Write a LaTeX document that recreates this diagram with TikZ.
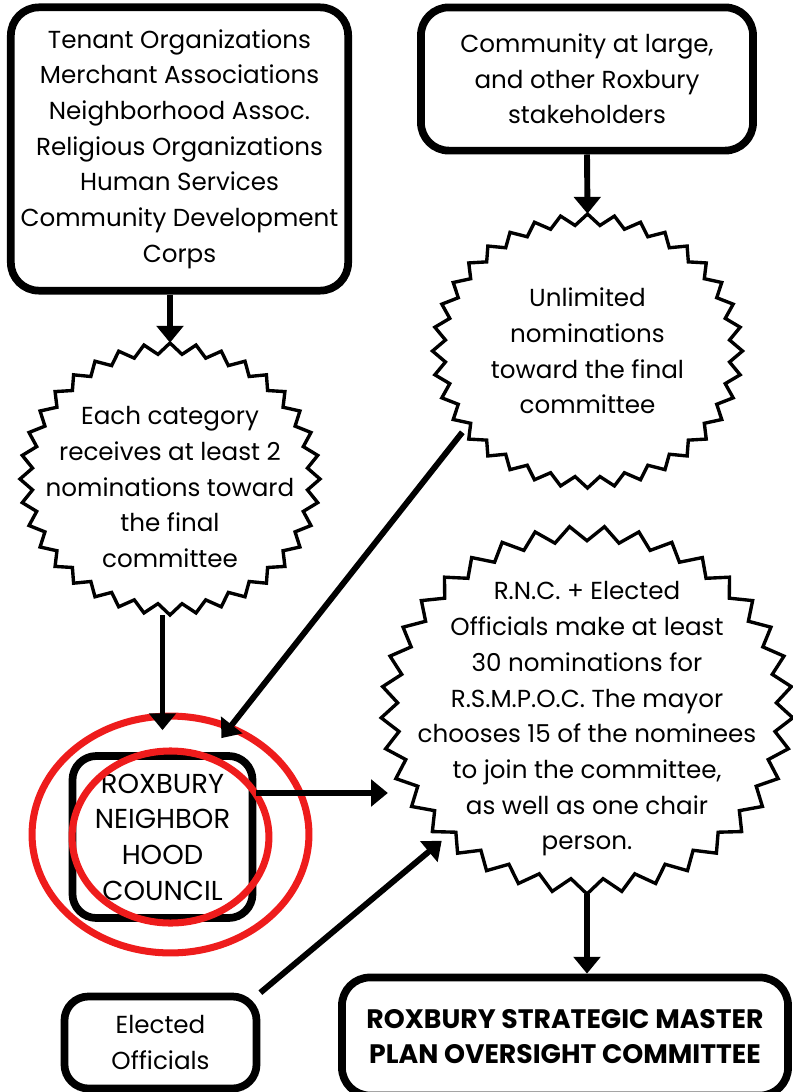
\documentclass[tikz,border=0pt]{standalone}
\usepackage{fontspec}
\setmainfont{Poppins}
\usepackage{tikz}
\usetikzlibrary{arrows.meta,shapes.geometric}
\definecolor{ringred}{HTML}{EE1C1C}
\tikzset{txt/.style={font=\fontsize{17.5}{25.4}\selectfont},
    box/.style={draw, line width=5.5pt, rounded corners=0.7cm, align=center, inner sep=0pt},
    blob/.style={ellipse, draw=none, inner sep=0pt},
    words/.style={align=center, inner sep=0pt},
    zig/.style={line width=2.4pt, line join=miter},
    link/.style={line width=4.2pt, -{Triangle[length=0.42cm,width=0.66cm]}},
    ring/.style={draw=ringred, line width=5pt}}
\newcommand{\burst}[4]{%
  \draw[zig, shift={(#1.center)}] (0,#3)
    \foreach \k [evaluate={\k as \f using 1-0.08*mod(\k,2)}] in {1,...,#4}
      { -- ({\f*#2*cos(90+\k*(360/#4))}, {\f*#3*sin(90+\k*(360/#4))}) } -- cycle;}

\begin{document}
\begin{tikzpicture}[x=0.025cm, y=-0.025cm, every node/.style={txt}]
    \useasboundingbox (0,0) rectangle (793,1092);
    \node[box, minimum width=8.43cm, minimum height=7.08cm] (orgs) at (179.5,149)
        {Tenant Organizations\\Merchant Associations\\Neighborhood Assoc.\\Religious Organizations\\Human Services\\Community Development\\Corps};
    \node[box, minimum width=8.3cm, minimum height=3.58cm] (crowd) at (587,79)
        {Community at large,\\and other Roxbury\\stakeholders};
    \node[blob, minimum width=7.5cm, minimum height=6.8cm] (nomA) at (170,479) {};
    \node[words] (nomAtxt) at (170,487)
        {Each category\\receives at least 2\\nominations toward\\the final\\committee};
    \node[blob, minimum width=7.75cm, minimum height=6.85cm] (unl) at (587.5,351) {};
    \node[words] (unltxt) at (unl) {Unlimited\\nominations\\toward the final\\committee};
    \node[blob, minimum width=10.3cm, minimum height=9.2cm] (big) at (587,710) {};
    \node[words] (bigtxt) at (587,719)
        {R.N.C. + Elected\\Officials make at least\\30 nominations for\\R.S.M.P.O.C. The mayor\\chooses 15 of the nominees\\to join the committee,\\as well as one chair\\person.};
    \node[box, rounded corners=0.6cm, minimum width=4.5cm, minimum height=4.05cm, font=\fontsize{19.5}{25.4}\selectfont] (rnc) at (162.5,837)
        {ROXBURY\\NEIGHBOR\\HOOD\\COUNCIL};
    \node[box, rounded corners=0.6cm, minimum width=4.8cm, minimum height=2.3cm] (elec) at (160.5,1042.5)
        {Elected\\Officials};
    \node[box, minimum width=11.15cm, minimum height=2.95cm, font=\fontsize{19}{25.4}\selectfont\bfseries] (final) at (565,1036.5)
        {ROXBURY STRATEGIC MASTER\\PLAN OVERSIGHT COMMITTEE};

    \burst{nomA}{150}{136}{72}
    \burst{unl}{155}{137}{72}
    \burst{big}{206}{184}{74}

    \draw[ring] (170.5,834.5) ellipse [x radius=3.46cm, y radius=2.96cm];
    \draw[ring] (170.5,837) ellipse [x radius=2.46cm, y radius=2.15cm];

    \draw[link] (nomA.north |- orgs.south) -- (nomA.north);
    \draw[link] (crowd.south) -- (unl.north);
    \draw[link, shorten >=0.55cm] (rnc.north |- nomA.south) -- (rnc.north);
    \draw[link] (unl.213) -- ([xshift=-0.875cm,yshift=0.35cm]rnc.north east);
    \coordinate (rncout) at ([yshift=1.1cm]rnc.east);
    \draw[link, shorten >=-0.18cm] (rncout) -- (rncout -| big.west);
    \draw[link] (elec.north east) -- (big.222);
    \draw[link] (big.south) -- (big.south |- final.north);
\end{tikzpicture}
\end{document}
